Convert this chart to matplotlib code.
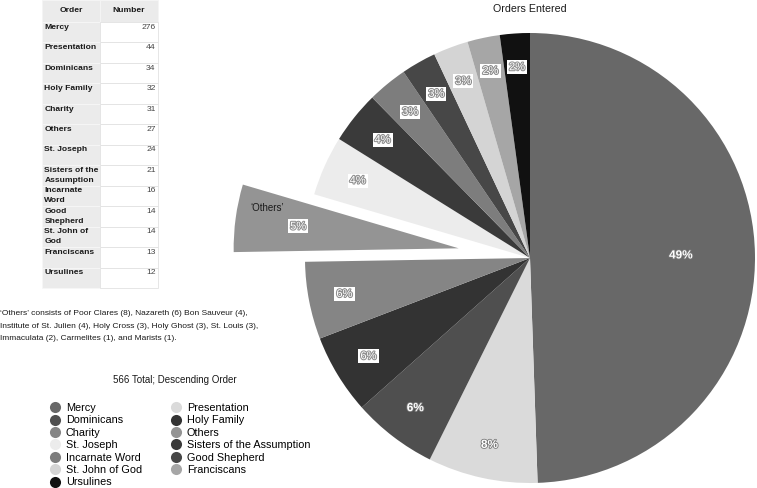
import matplotlib
matplotlib.use("Agg")
import matplotlib.pyplot as plt
import matplotlib.patheffects as pe
from matplotlib.lines import Line2D
import numpy as np

plt.rcParams["font.family"] = ["Liberation Sans", "DejaVu Sans"]

orders = ["Mercy", "Presentation", "Dominicans", "Holy Family", "Charity", "Others",
          "St. Joseph", "Sisters of the Assumption", "Incarnate Word", "Good Shepherd",
          "St. John of God", "Franciscans", "Ursulines"]
table_names = ["Mercy", "Presentation", "Dominicans", "Holy Family", "Charity", "Others",
               "St. Joseph", "Sisters of the\nAssumption", "Incarnate\nWord", "Good\nShepherd",
               "St. John of\nGod", "Franciscans", "Ursulines"]
counts = [276, 44, 34, 32, 31, 27, 24, 21, 16, 14, 14, 13, 12]
pct_labels = ["49%", "8%", "6%", "6%", "6%", "5%", "4%", "4%", "3%", "3%", "3%", "2%", "2%"]
total_note = "566 Total; Descending Order"
footnote = ("\u2018Others\u2019 consists of Poor Clares (8), Nazareth (6) Bon Sauveur (4),\n"
            "Institute of St. Julien (4), Holy Cross (3), Holy Ghost (3), St. Louis (3),\n"
            "Immaculata (2), Carmelites (1), and Marists (1).")

colors = ["#686868", "#dadada", "#4f4f4f", "#333333", "#858585", "#949494", "#ececec",
          "#3a3a3a", "#7d7d7d", "#474747", "#d4d4d4", "#a6a6a6", "#111111"]
explode = [0, 0, 0, 0, 0, 0.32, 0, 0, 0, 0, 0, 0, 0]
label_dist = [0.67, 0.85, 0.84, 0.84, 0.84, 0.72, 0.84, 0.84, 0.84, 0.84, 0.84, 0.85, 0.85]
boxed = [False, False, False, True, True, True, True, True, True, True, True, True, True]

W, H = 757, 488
fig = plt.figure(figsize=(W / 100, H / 100), dpi=100)
ax = fig.add_axes([0, 0, 1, 1])

# pie centre / radius in pixels
cx, cy, R = 530, 258, 225
wedges, _ = ax.pie(counts, colors=colors, startangle=90, counterclock=False,
                   explode=explode, radius=1, wedgeprops=dict(linewidth=0))
ax.set_aspect("auto")
ax.set_xlim(-cx / R, (W - cx) / R)
ax.set_ylim(-(H - cy) / R, cy / R)
ax.axis("off")

for w, lab, d, b in zip(wedges, pct_labels, label_dist, boxed):
    th = np.deg2rad((w.theta1 + w.theta2) / 2)
    x = w.center[0] + d * np.cos(th)
    y = w.center[1] + d * np.sin(th)
    if b:
        ax.text(x, y, lab, ha="center", va="center", fontsize=8, color="white",
                path_effects=[pe.withStroke(linewidth=1.5, foreground="#8f8f8f")],
                bbox=dict(boxstyle="square,pad=0.18", fc="white", ec="none"))
    else:
        ax.text(x, y, lab, ha="center", va="center", fontsize=8.5, color="white",
                fontweight="bold",
                path_effects=[pe.withStroke(linewidth=1.2, foreground="#777777")])

# 'Others' call-out on exploded slice
w_o = wedges[orders.index("Others")]
th = np.deg2rad(w_o.theta1 + 4.5)
ax.text(w_o.center[0] + 0.87 * np.cos(th), w_o.center[1] + 0.87 * np.sin(th),
        "\u2018Others\u2019", fontsize=7, ha="center", va="center", color="#1a1a1a")

fig.text(cx / W, 1 - 9 / H, "Orders Entered", ha="center", va="center", fontsize=7.7, color="#1a1a1a")

# table (text sits at the top of each row, so pad one-line cells to two lines)
def two_lines(s):
    return s if "\n" in s else s + "\n"

cell_text = [[two_lines(n), two_lines(str(c))] for n, c in zip(table_names, counts)]
tb = ax.table(cellText=cell_text, colLabels=["Order", "Number"],
              bbox=[42 / W, 1 - 288 / H, 116 / W, 288 / H], transform=fig.transFigure)
tb.auto_set_font_size(False)
for (r, c), cell in tb.get_celld().items():
    cell.PAD = 0.04
    cell.set_linewidth(0.6)
    cell.set_height(22 if r == 0 else 20.5)
    txt = cell.get_text()
    txt.set_fontsize(6.1)
    txt.set_color("#1a1a1a")
    txt.set_linespacing(1.6)
    if r == 0:
        cell.set_facecolor("#ebebeb")
        cell.set_edgecolor("#f5f5f5")
        txt.set_ha("center")
        txt.set_fontweight("bold")
    elif c == 0:
        cell.set_facecolor("#ebebeb")
        cell.set_edgecolor("#f7f7f7")
        txt.set_ha("left")
        txt.set_fontweight("bold")
    else:
        cell.set_facecolor("white")
        cell.set_edgecolor("#e2e2e2")
        txt.set_ha("right")
        txt.set_color("#444444")

fig.text(0, 1 - 326 / H, footnote, ha="left", va="center", fontsize=6.0,
         color="#1a1a1a", linespacing=2.05)

fig.text(175 / W, 1 - 380 / H, total_note, ha="center", va="center", fontsize=7, color="#1a1a1a")

# legend, filled row-wise like the reference
handles = [Line2D([], [], marker="o", ls="none", markersize=8, markerfacecolor=col,
                  markeredgecolor="none", label=o) for o, col in zip(orders, colors)]
handles = handles[0::2] + handles[1::2]
fig.legend(handles=handles, ncol=2, loc="upper left", bbox_to_anchor=(49 / W, 1 - 403 / H),
           frameon=False, fontsize=7.8, labelspacing=0.22, handletextpad=0.45,
           columnspacing=2.6, handlelength=1.1, borderaxespad=0, borderpad=0)

fig.savefig("out.png", dpi=100)
